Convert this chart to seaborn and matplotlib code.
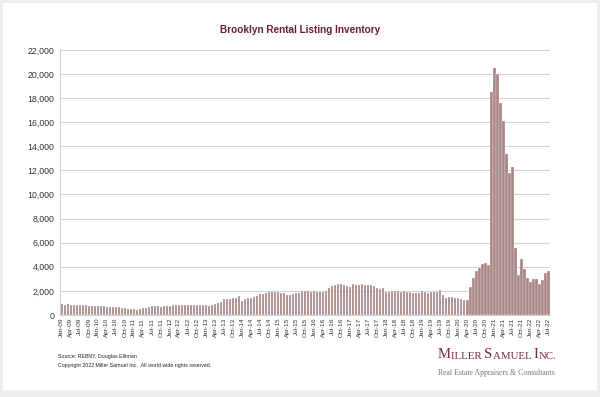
import pandas as pd
import numpy as np
import matplotlib
matplotlib.use('Agg')
import matplotlib.pyplot as plt
from matplotlib.patches import Rectangle
from matplotlib.ticker import FuncFormatter
import seaborn as sns

# Monthly listing inventory, Jan-09 .. Jul-22
y2009 = [880, 870, 900, 850, 840, 830, 830, 820, 790, 740, 730, 720]
y2010 = [720, 710, 720, 700, 700, 690, 680, 640, 610, 570, 530, 510]
y2011 = [460, 440, 480, 560, 620, 690, 740, 760, 720, 700, 720, 760]
y2012 = [780, 790, 810, 820, 830, 860, 870, 870, 860, 860, 820, 800]
y2013 = [790, 780, 820, 920, 1030, 1110, 1330, 1350, 1360, 1400, 1450, 1540]
y2014 = [1150, 1320, 1430, 1380, 1500, 1580, 1720, 1780, 1850, 1880, 1940, 1900]
y2015 = [1880, 1860, 1800, 1640, 1660, 1720, 1800, 1820, 1960, 2000, 1960, 1950]
y2016 = [1980, 1900, 1920, 1950, 2000, 2250, 2420, 2480, 2540, 2560, 2500, 2420]
y2017 = [2360, 2540, 2450, 2500, 2580, 2480, 2500, 2450, 2380, 2220, 2140, 2220]
y2018 = [1940, 1900, 1960, 2030, 1980, 1950, 1980, 1940, 1900, 1860, 1800, 1800]
y2019 = [1960, 1900, 1840, 1880, 1900, 1940, 2060, 1620, 1440, 1520, 1470, 1440]
y2020 = [1380, 1300, 1220, 1250, 2300, 3100, 3650, 3880, 4220, 4340, 4110, 18480]
y2021 = [20470, 19970, 17570, 16130, 13330, 11760, 12250, 5530, 3320, 4620, 3790, 3040]
y2022 = [2770, 2990, 2990, 2550, 2900, 3460, 3650]

inventory = (y2009 + y2010 + y2011 + y2012 + y2013 + y2014 + y2015 + y2016
             + y2017 + y2018 + y2019 + y2020 + y2021 + y2022)
months = pd.date_range('2009-01-01', periods=len(inventory), freq='MS').strftime('%b-%y')

df = pd.DataFrame({'Month': months, 'Inventory': inventory})

sns.set_style('white')
plt.rcParams['font.family'] = ['Liberation Sans', 'DejaVu Sans']

fig = plt.figure(figsize=(6, 3.97), dpi=100)
fig.patch.set_facecolor('#eeeeee')
fig.patches.append(Rectangle((3 / 600, 7 / 397), 594 / 600, 387 / 397,
                             transform=fig.transFigure, facecolor='white',
                             edgecolor='none', zorder=-10))

ax = fig.add_axes([0.1, 0.2065, 0.817, 0.668])
ax.set_facecolor('none')
sns.barplot(data=df, x='Month', y='Inventory', color='#a88585', saturation=1,
            width=0.8, edgecolor='white', linewidth=0.2, ax=ax)

ax.set_ylim(0, 22000)
ax.set_yticks(range(0, 22001, 2000))
ax.yaxis.set_major_formatter(FuncFormatter(lambda v, p: f'{int(v):,}'))
ax.set_xlim(-0.6, len(inventory) - 0.4)
ax.set_xticks(range(0, len(inventory), 3))
ax.set_xticklabels(months[::3], rotation=90, fontsize=4.6, color='#333333')
ax.tick_params(axis='y', labelsize=6.3, colors='#333333', length=0, pad=4)
ax.tick_params(axis='x', length=0, pad=2)
ax.grid(axis='y', color='#d4d4d4', linewidth=0.8)
ax.set_axisbelow(True)
ax.set_xlabel('')
ax.set_ylabel('')
for s in ['top', 'right']:
    ax.spines[s].set_visible(False)
for s in ['left', 'bottom']:
    ax.spines[s].set_color('#cfcfcf')
    ax.spines[s].set_linewidth(0.8)

fig.text(0.5, 0.925, 'Brooklyn Rental Listing Inventory', ha='center', va='center',
         fontsize=7.2, fontweight='bold', color='#6b1f30')

fig.text(0.097, 0.101, 'Source: REBNY, Douglas Elliman', fontsize=3.8, color='#222222', va='center')
fig.text(0.097, 0.079, 'Copyright 2022 Miller Samuel Inc.  All world wide rights reserved.',
         fontsize=3.8, color='#222222', va='center')

# logo in small caps: big initial letters, smaller rest
logo = [('M', 10.5), ('ILLER ', 7.8), ('S', 10.5), ('AMUEL ', 7.8), ('I', 10.5), ('NC.', 7.8)]
prev = fig.text(438 / 600, 1 - 358 / 397, logo[0][0], fontsize=logo[0][1],
                family='Liberation Serif', color='#7a2a3a', va='baseline')
for txt, size in logo[1:]:
    prev = ax.annotate(txt, xy=(1, 0), xycoords=prev, fontsize=size,
                       family='Liberation Serif', color='#7a2a3a',
                       va='bottom', ha='left', annotation_clip=False)
fig.text(438 / 600, 1 - 373 / 397, 'Real Estate Appraisers & Consultants', ha='left',
         va='center', fontsize=5.6, family='Liberation Serif', color='#777777')

fig.savefig('out.png', dpi=100)
